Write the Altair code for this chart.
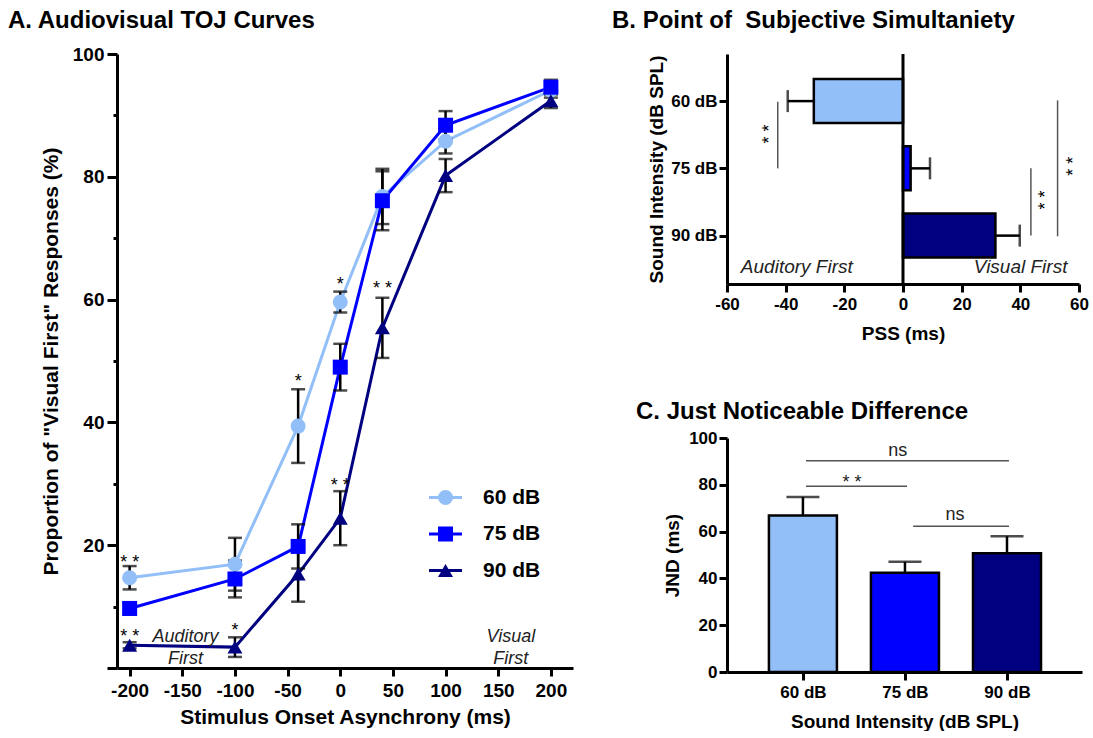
import altair as alt
import pandas as pd

FONT = "Liberation Sans"

# ---------------- shared categories ----------------
intensities = ["60 dB", "75 dB", "90 dB"]
colors = ["#92BFF7", "#0000FF", "#000080"]
shapes = ["circle", "square", "triangle-up"]
positions = [1, 2, 3]

# ---------------- Panel A: TOJ curves ----------------
soa = [-200, -100, -40, 0, 40, 100, 200]
resp_60 = [14.7, 16.9, 39.4, 59.6, 76.8, 85.8, 94.1]
se_60 = [1.9, 4.3, 6.0, 1.7, 4.5, 2.0, 1.2]
resp_75 = [9.7, 14.5, 19.8, 49.0, 76.1, 88.4, 94.6]
se_75 = [1.0, 3.0, 3.6, 3.8, 4.8, 2.3, 1.2]
resp_90 = [3.7, 3.4, 15.3, 24.4, 55.4, 80.2, 92.4]
se_90 = [0.5, 1.6, 4.5, 4.4, 4.9, 2.7, 1.2]

star_a_x = [-200, -200, -100, -40, 0, 0, 40]
star_a_y = [17.1, 5.1, 6.1, 46.5, 62.3, 29.6, 61.7]
star_a_text = ["* *", "* *", "*", "*", "*", "* *", "* *"]

order_a_text = ["Auditory", "First", "Visual", "First"]
order_a_x = [-147, -147, 162, 162]
order_a_y = [4.3, 0.6, 4.3, 0.6]

# ---------------- Panel B: PSS ----------------
pss = [-30.4, 2.6, 31.5]
pss_se = [8.9, 6.6, 8.3]
sig_b_x = [-42.7, 43.6, 52.7]
sig_b_from = [1.01, 2.0, 0.99]
sig_b_to = [2.0, 3.0, 3.01]
sig_b_star_x = [-45.5, 48.8, 58.4]
sig_b_star_y = [1.49, 2.47, 1.97]
order_b_text = ["Auditory First", "Visual First"]
order_b_x = [-36.2, 40.1]
order_b_y = [3.56, 3.56]

# ---------------- Panel C: JND ----------------
jnd = [66.9, 42.4, 50.7]
jnd_se = [7.9, 4.7, 7.3]
sig_c_from = [1.03, 1.03, 2.08]
sig_c_to = [3.02, 2.02, 3.02]
sig_c_y = [90.3, 79.4, 62.3]
sig_c_label = ["ns", "* *", "ns"]
sig_c_label_x = [1.93, 1.48, 2.49]
sig_c_label_y = [94.3, 80.7, 67.3]
sig_c_label_size = [18, 18, 18]

NUM_EXPR = "datum.value < 0 ? '-' + abs(datum.value) : '' + datum.value"


def ax(**kw):
    base = dict(domainColor="black", domainWidth=3, tickColor="black", tickWidth=3,
                labelFont=FONT, labelFontWeight="bold", labelColor="black",
                titleFont=FONT, titleFontWeight="bold", titleColor="black",
                grid=False, labelFlush=False, labelOverlap=False)
    base.update(kw)
    return alt.Axis(**base)


def title(text, dx, offset):
    return alt.TitleParams(text, anchor="start", frame="group", dx=dx, offset=offset,
                           fontSize=24, font=FONT, fontWeight="bold", color="black")


cat_expr = " : ".join(f"datum.value == {p} ? '{c}'" for p, c in zip(positions, intensities)) + " : ''"

# ---------- Panel A ----------
rows = []
for name, vals, ses in zip(intensities, [resp_60, resp_75, resp_90], [se_60, se_75, se_90]):
    for s, v, e in zip(soa, vals, ses):
        rows.append({"Intensity": name, "Level": name, "SOA": s, "P": v, "lo": v - e, "hi": v + e})
dfa = pd.DataFrame(rows)

# two legends with identical geometry, drawn at the same spot: markers + line segments
leg_common = dict(title=None, orient="none", legendX=318, legendY=433, symbolSize=225,
                  labelFontSize=21, labelFont=FONT, labelFontWeight="bold", labelColor="black",
                  labelOffset=27, rowPadding=14.5, padding=0, symbolOpacity=1)
leg_pts = alt.Legend(symbolStrokeWidth=0, **leg_common)
leg_line = alt.Legend(symbolType="M-2.2,0L2.2,0", symbolStrokeWidth=3, labelExpr="' '", **leg_common)

color_pts = alt.Color("Intensity:N", scale=alt.Scale(domain=intensities, range=colors), legend=leg_pts)
shape_a = alt.Shape("Intensity:N", scale=alt.Scale(domain=intensities, range=shapes), legend=leg_pts)
# data-driven domain (sorted, same order as intensities) keeps this legend separate
stroke_line = alt.Stroke("Level:N", scale=alt.Scale(range=colors), legend=leg_line)
x_a = alt.X("SOA:Q", scale=alt.Scale(domain=[-212, 221], nice=False, zero=False),
            axis=ax(title="Stimulus Onset Asynchrony (ms)", values=list(range(-200, 201, 50)),
                    labelExpr=NUM_EXPR,
                    labelFontSize=19, titleFontSize=21, tickSize=8, labelPadding=5, titlePadding=6))
y_a = alt.Y("P:Q", scale=alt.Scale(domain=[0, 100], nice=False),
            axis=ax(title='Proportion of "Visual First" Responses (%)', values=list(range(0, 101, 10)),
                    labelExpr="datum.value > 0 && datum.value % 20 == 0 ? datum.label : ''",
                    tickSize={"condition": {"test": "datum.value % 20 == 0", "value": 10}, "value": 4},
                    labelFontSize=19, titleFontSize=21, labelPadding=3, titlePadding=11))

base_a = alt.Chart(dfa)
lines_a = base_a.mark_line(strokeWidth=3).encode(x=x_a, y=y_a, stroke=stroke_line, order="SOA:Q")
err_a = base_a.mark_rule(strokeWidth=2.5, color="black").encode(x="SOA:Q", y="lo:Q", y2="hi:Q")
caplo_a = base_a.mark_tick(orient="horizontal", size=14, thickness=2.5, color="black").encode(x="SOA:Q", y="lo:Q")
caphi_a = base_a.mark_tick(orient="horizontal", size=14, thickness=2.5, color="black").encode(x="SOA:Q", y="hi:Q")
pts_a = base_a.mark_point(filled=True, size=225, opacity=1).encode(x="SOA:Q", y="P:Q", color=color_pts, shape=shape_a)

stars_a = alt.Chart(pd.DataFrame({"x": star_a_x, "y": star_a_y, "t": star_a_text})).mark_text(
    font=FONT, fontSize=18, color="black", align="center", baseline="middle"
).encode(x="x:Q", y="y:Q", text="t:N")
orders_a = alt.Chart(pd.DataFrame({"x": order_a_x, "y": order_a_y, "t": order_a_text})).mark_text(
    font=FONT, fontSize=18, fontStyle="italic", color="#222", align="center", baseline="alphabetic"
).encode(x="x:Q", y="y:Q", text="t:N")

chart_a = alt.layer(lines_a, err_a, caplo_a, caphi_a, pts_a, stars_a, orders_a).properties(
    width=456, height=614, title=title("A. Audiovisual TOJ Curves", -109, 12)
)

# ---------- Panel B ----------
dfb = pd.DataFrame({
    "Intensity": intensities, "pos": positions, "PSS": pss, "col": colors,
    "end": [v - e if v < 0 else v + e for v, e in zip(pss, pss_se)],
})
x_b = alt.X("PSS:Q", scale=alt.Scale(domain=[-60, 60], nice=False),
            axis=ax(title="PSS (ms)", values=list(range(-60, 61, 20)), labelExpr=NUM_EXPR,
                    labelFontSize=17, titleFontSize=19, tickSize=8, labelPadding=4, titlePadding=12))
y_b = alt.Y("pos:Q", scale=alt.Scale(domain=[0.374, 3.645], reverse=True, nice=False, zero=False),
            axis=ax(title="Sound Intensity (dB SPL)", values=positions, labelExpr=cat_expr,
                    labelFontSize=17, titleFontSize=19, tickSize=8, labelPadding=2, titlePadding=4))
base_b = alt.Chart(dfb)
bars_b = base_b.mark_bar(size=44, stroke="black", strokeWidth=2.5).encode(
    x=x_b, x2=alt.datum(0), y=y_b, color=alt.Color("col:N", scale=None))
err_b = base_b.mark_rule(strokeWidth=2.5, color="black").encode(x="PSS:Q", x2="end:Q", y="pos:Q")
cap_b = base_b.mark_tick(orient="vertical", size=22, thickness=2.5, color="black").encode(x="end:Q", y="pos:Q")
zero_b = alt.Chart(pd.DataFrame({"z": [0]})).mark_rule(strokeWidth=3, color="black").encode(x="z:Q")
sig_b = alt.Chart(pd.DataFrame({"x": sig_b_x, "a": sig_b_from, "b": sig_b_to})).mark_rule(
    strokeWidth=1.5, color="#555").encode(x="x:Q", y="a:Q", y2="b:Q")
star_b = alt.Chart(pd.DataFrame({"x": sig_b_star_x, "y": sig_b_star_y, "t": ["* *"] * 3})).mark_text(
    font=FONT, fontSize=18, color="black", angle=270, align="center", baseline="middle"
).encode(x="x:Q", y="y:Q", text="t:N")
ord_b = alt.Chart(pd.DataFrame({"x": order_b_x, "y": order_b_y, "t": order_b_text})).mark_text(
    font=FONT, fontSize=19, fontStyle="italic", color="#222", align="center", baseline="alphabetic"
).encode(x="x:Q", y="y:Q", text="t:N")
chart_b = alt.layer(err_b, cap_b, bars_b, zero_b, sig_b, star_b, ord_b).properties(
    width=352, height=230, title=title("B. Point of\u00a0 Subjective Simultaniety", -115, 20)
)

# ---------- Panel C ----------
dfc = pd.DataFrame({"Intensity": intensities, "pos": positions, "JND": jnd, "col": colors,
                    "hi": [v + e for v, e in zip(jnd, jnd_se)]})
x_c = alt.X("pos:Q", scale=alt.Scale(domain=[0.305, 3.686], nice=False, zero=False),
            axis=ax(title="Sound Intensity (dB SPL)", values=positions, labelExpr=cat_expr,
                    labelFontSize=17, titleFontSize=19, tickSize=8, labelPadding=4, titlePadding=12))
y_c = alt.Y("JND:Q", scale=alt.Scale(domain=[0, 100], nice=False),
            axis=ax(title="JND (ms)", values=list(range(0, 101, 20)), labelFontSize=17,
                    titleFontSize=19, tickSize=8, labelPadding=2, titlePadding=6))
base_c = alt.Chart(dfc)
err_c = base_c.mark_rule(strokeWidth=2.5, color="black").encode(x="pos:Q", y="JND:Q", y2="hi:Q")
cap_c = base_c.mark_tick(orient="horizontal", size=33, thickness=2.5, color="black").encode(x="pos:Q", y="hi:Q")
bars_c = base_c.mark_bar(size=68, stroke="black", strokeWidth=2.5).encode(
    x=x_c, y=y_c, y2=alt.datum(0), color=alt.Color("col:N", scale=None))
sig_c = alt.Chart(pd.DataFrame({"a": sig_c_from, "b": sig_c_to, "y": sig_c_y})).mark_rule(
    strokeWidth=1.5, color="#555").encode(x="a:Q", x2="b:Q", y="y:Q")
lab_c = alt.Chart(pd.DataFrame({"x": sig_c_label_x, "y": sig_c_label_y, "t": sig_c_label,
                                "fs": sig_c_label_size})).mark_text(
    font=FONT, color="#222", align="center", baseline="middle"
).encode(x="x:Q", y="y:Q", text="t:N", size=alt.Size("fs:Q", scale=None))
chart_c = alt.layer(err_c, cap_c, bars_c, sig_c, lab_c).properties(
    width=355, height=234, title=title("C. Just Noticeable Difference", -91, 5)
)

right = alt.vconcat(chart_b, chart_c, spacing=154, bounds="flush")
chart = alt.hconcat(chart_a, right, spacing=154, bounds="flush").properties(
    padding={"left": 8, "top": 8, "right": 0, "bottom": 0}, background="white"
).configure_view(stroke=None).resolve_scale(x="independent", y="independent")

chart.save("out.html", embed_options={"renderer": "svg", "actions": False})
